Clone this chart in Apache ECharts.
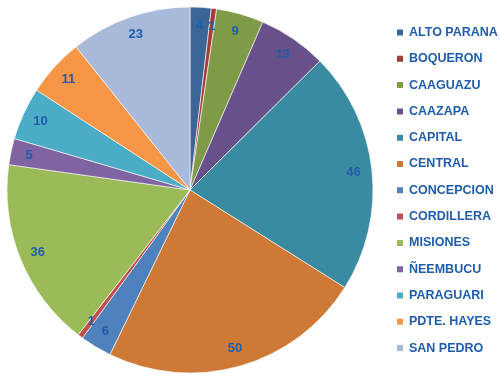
<!DOCTYPE html>
<html>
<head>
<meta charset="utf-8">
<script src="https://cdn.jsdelivr.net/npm/echarts@6/dist/echarts.min.js"></script>
<style>
  html, body { margin: 0; padding: 0; background: #fff; }
  #chart { width: 500px; height: 377px; }
</style>
</head>
<body>
<div id="chart"></div>
<script>
// departamentos y cantidades
const departamentos = ['ALTO PARANA', 'BOQUERON', 'CAAGUAZU', 'CAAZAPA', 'CAPITAL', 'CENTRAL',
  'CONCEPCION', 'CORDILLERA', 'MISIONES', 'ÑEEMBUCU', 'PARAGUARI', 'PDTE. HAYES', 'SAN PEDRO'];
const cantidades = [4, 1, 9, 13, 46, 50, 6, 1, 36, 5, 10, 11, 23];
const colores = ['#3C6598', '#A43C3A', '#7F9B48', '#68508A', '#3A8BA1', '#CE7A36',
  '#4F81BD', '#C0504D', '#9BBB59', '#8064A2', '#4BACC6', '#F79646', '#A8B9D9'];

const datos = departamentos.map((nombre, i) => ({
  name: nombre,
  value: cantidades[i],
  itemStyle: { color: colores[i] }
}));

const chart = echarts.init(document.getElementById('chart'));
chart.setOption({
  backgroundColor: '#fff',
  animation: false,
  legend: {
    orient: 'vertical',
    left: 390,
    top: 21,
    itemWidth: 8,
    itemHeight: 8,
    itemGap: 13.3,
    icon: 'rect',
    data: departamentos,
    textStyle: {
      color: '#1F5DAB',
      fontWeight: 'bold',
      fontSize: 12.5,
      fontFamily: 'Liberation Sans'
    }
  },
  series: [{
    type: 'pie',
    center: [190, 190],
    radius: [0, 183],
    startAngle: 90,
    clockwise: true,
    data: datos,
    label: { show: false },
    labelLine: { show: false },
    itemStyle: { borderColor: '#fff', borderWidth: 0.6 }
  }, {
    // capa solo para las etiquetas, cerca del borde
    type: 'pie',
    center: [190, 190],
    radius: [140, 183],
    startAngle: 90,
    clockwise: true,
    silent: true,
    legendHoverLink: false,
    data: datos.map(d => ({ name: d.name, value: d.value })),
    itemStyle: { color: 'rgba(0,0,0,0)' },
    label: {
      show: true,
      position: 'inside',
      formatter: '{c}',
      color: '#1F5DAB',
      fontWeight: 'bold',
      fontSize: 13,
      fontFamily: 'Liberation Sans'
    },
    labelLine: { show: false }
  }]
});
</script>
</body>
</html>
